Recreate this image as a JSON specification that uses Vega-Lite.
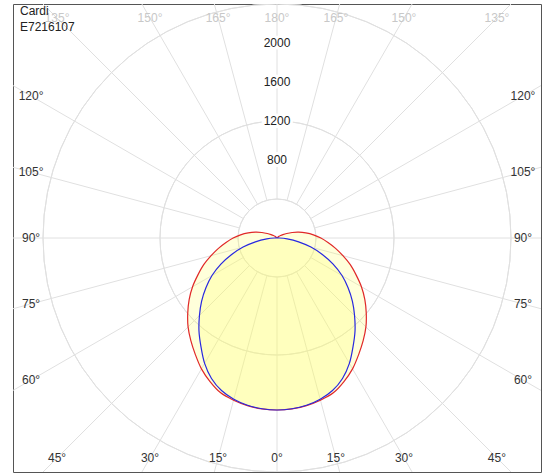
{
  "$schema": "https://vega.github.io/schema/vega-lite/v6.json",
  "width": 528,
  "height": 468,
  "autosize": {"type": "none"},
  "padding": {"left": 13, "top": 4, "right": 2, "bottom": 4},
  "background": "white",
  "config": {"view": {"stroke": "#555555", "strokeWidth": 1}, "font": "Liberation Sans"},
  "title": {
    "text": ["Cardi", "E7216107"],
    "anchor": "start",
    "frame": "group",
    "orient": "top",
    "baseline": "top",
    "offset": 0,
    "dx": 7,
    "dy": 30,
    "font": "Liberation Sans",
    "fontSize": 12,
    "fontWeight": "normal",
    "color": "#222222",
    "lineHeight": 16
  },
  "datasets": {
    "rings": [{"r": 400}, {"r": 800}, {"r": 1200}, {"r": 1600}, {"r": 2000}, {"r": 2400}, {"r": 2800}, {"r": 3200}, {"r": 3600}],
    "spokes": [{"a": 0}, {"a": 15}, {"a": 30}, {"a": 45}, {"a": 60}, {"a": 75}, {"a": 90}, {"a": 105}, {"a": 120}, {"a": 135}, {"a": 150}, {"a": 165}, {"a": 180}, {"a": 195}, {"a": 210}, {"a": 225}, {"a": 240}, {"a": 255}, {"a": 270}, {"a": 285}, {"a": 300}, {"a": 315}, {"a": 330}, {"a": 345}],
    "anglabels": [
      {"a": -165, "label": "165°"}, {"a": -150, "label": "150°"}, {"a": -135, "label": "135°"}, {"a": -120, "label": "120°"}, {"a": -105, "label": "105°"}, {"a": -90, "label": "90°"}, {"a": -75, "label": "75°"}, {"a": -60, "label": "60°"}, {"a": -45, "label": "45°"}, {"a": -30, "label": "30°"}, {"a": -15, "label": "15°"},
      {"a": 0, "label": "0°"},
      {"a": 15, "label": "15°"}, {"a": 30, "label": "30°"}, {"a": 45, "label": "45°"}, {"a": 60, "label": "60°"}, {"a": 75, "label": "75°"}, {"a": 90, "label": "90°"}, {"a": 105, "label": "105°"}, {"a": 120, "label": "120°"}, {"a": 135, "label": "135°"}, {"a": 150, "label": "150°"}, {"a": 165, "label": "165°"},
      {"a": 180, "label": "180°"}
    ],
    "intlabels": [{"v": 800}, {"v": 1200}, {"v": 1600}, {"v": 2000}],
    "curves": [
      {"p": "C0-C180", "g": -180, "I": 0}, {"p": "C0-C180", "g": -170, "I": 0}, {"p": "C0-C180", "g": -160, "I": 1}, {"p": "C0-C180", "g": -150, "I": 3}, {"p": "C0-C180", "g": -140, "I": 8}, {"p": "C0-C180", "g": -135, "I": 16}, {"p": "C0-C180", "g": -130, "I": 28}, {"p": "C0-C180", "g": -125, "I": 45}, {"p": "C0-C180", "g": -120, "I": 70}, {"p": "C0-C180", "g": -115, "I": 110}, {"p": "C0-C180", "g": -110, "I": 165}, {"p": "C0-C180", "g": -105, "I": 230}, {"p": "C0-C180", "g": -100, "I": 300}, {"p": "C0-C180", "g": -95, "I": 375}, {"p": "C0-C180", "g": -90, "I": 450}, {"p": "C0-C180", "g": -85, "I": 525}, {"p": "C0-C180", "g": -80, "I": 610}, {"p": "C0-C180", "g": -75, "I": 700}, {"p": "C0-C180", "g": -70, "I": 800}, {"p": "C0-C180", "g": -65, "I": 895}, {"p": "C0-C180", "g": -60, "I": 1000}, {"p": "C0-C180", "g": -55, "I": 1100}, {"p": "C0-C180", "g": -50, "I": 1195}, {"p": "C0-C180", "g": -45, "I": 1290}, {"p": "C0-C180", "g": -40, "I": 1375}, {"p": "C0-C180", "g": -35, "I": 1460}, {"p": "C0-C180", "g": -30, "I": 1550}, {"p": "C0-C180", "g": -25, "I": 1625}, {"p": "C0-C180", "g": -20, "I": 1690}, {"p": "C0-C180", "g": -15, "I": 1722}, {"p": "C0-C180", "g": -10, "I": 1745}, {"p": "C0-C180", "g": -5, "I": 1760},
      {"p": "C0-C180", "g": 0, "I": 1764},
      {"p": "C0-C180", "g": 5, "I": 1760}, {"p": "C0-C180", "g": 10, "I": 1745}, {"p": "C0-C180", "g": 15, "I": 1722}, {"p": "C0-C180", "g": 20, "I": 1690}, {"p": "C0-C180", "g": 25, "I": 1625}, {"p": "C0-C180", "g": 30, "I": 1550}, {"p": "C0-C180", "g": 35, "I": 1460}, {"p": "C0-C180", "g": 40, "I": 1375}, {"p": "C0-C180", "g": 45, "I": 1290}, {"p": "C0-C180", "g": 50, "I": 1195}, {"p": "C0-C180", "g": 55, "I": 1100}, {"p": "C0-C180", "g": 60, "I": 1000}, {"p": "C0-C180", "g": 65, "I": 895}, {"p": "C0-C180", "g": 70, "I": 800}, {"p": "C0-C180", "g": 75, "I": 700}, {"p": "C0-C180", "g": 80, "I": 610}, {"p": "C0-C180", "g": 85, "I": 525}, {"p": "C0-C180", "g": 90, "I": 450}, {"p": "C0-C180", "g": 95, "I": 375}, {"p": "C0-C180", "g": 100, "I": 300}, {"p": "C0-C180", "g": 105, "I": 230}, {"p": "C0-C180", "g": 110, "I": 165}, {"p": "C0-C180", "g": 115, "I": 110}, {"p": "C0-C180", "g": 120, "I": 70}, {"p": "C0-C180", "g": 125, "I": 45}, {"p": "C0-C180", "g": 130, "I": 28}, {"p": "C0-C180", "g": 135, "I": 16}, {"p": "C0-C180", "g": 140, "I": 8}, {"p": "C0-C180", "g": 150, "I": 3}, {"p": "C0-C180", "g": 160, "I": 1}, {"p": "C0-C180", "g": 170, "I": 0}, {"p": "C0-C180", "g": 180, "I": 0},
      {"p": "C90-C270", "g": -180, "I": 0}, {"p": "C90-C270", "g": -150, "I": 0}, {"p": "C90-C270", "g": -120, "I": 0}, {"p": "C90-C270", "g": -100, "I": 0}, {"p": "C90-C270", "g": -95, "I": 3}, {"p": "C90-C270", "g": -90, "I": 25}, {"p": "C90-C270", "g": -85, "I": 105}, {"p": "C90-C270", "g": -80, "I": 225}, {"p": "C90-C270", "g": -75, "I": 360}, {"p": "C90-C270", "g": -70, "I": 495}, {"p": "C90-C270", "g": -65, "I": 635}, {"p": "C90-C270", "g": -60, "I": 770}, {"p": "C90-C270", "g": -55, "I": 890}, {"p": "C90-C270", "g": -50, "I": 1010}, {"p": "C90-C270", "g": -45, "I": 1125}, {"p": "C90-C270", "g": -40, "I": 1245}, {"p": "C90-C270", "g": -35, "I": 1360}, {"p": "C90-C270", "g": -30, "I": 1485}, {"p": "C90-C270", "g": -25, "I": 1590}, {"p": "C90-C270", "g": -20, "I": 1665}, {"p": "C90-C270", "g": -15, "I": 1712}, {"p": "C90-C270", "g": -10, "I": 1742}, {"p": "C90-C270", "g": -5, "I": 1758},
      {"p": "C90-C270", "g": 0, "I": 1764},
      {"p": "C90-C270", "g": 5, "I": 1758}, {"p": "C90-C270", "g": 10, "I": 1742}, {"p": "C90-C270", "g": 15, "I": 1712}, {"p": "C90-C270", "g": 20, "I": 1665}, {"p": "C90-C270", "g": 25, "I": 1590}, {"p": "C90-C270", "g": 30, "I": 1485}, {"p": "C90-C270", "g": 35, "I": 1360}, {"p": "C90-C270", "g": 40, "I": 1245}, {"p": "C90-C270", "g": 45, "I": 1125}, {"p": "C90-C270", "g": 50, "I": 1010}, {"p": "C90-C270", "g": 55, "I": 890}, {"p": "C90-C270", "g": 60, "I": 770}, {"p": "C90-C270", "g": 65, "I": 635}, {"p": "C90-C270", "g": 70, "I": 495}, {"p": "C90-C270", "g": 75, "I": 360}, {"p": "C90-C270", "g": 80, "I": 225}, {"p": "C90-C270", "g": 85, "I": 105}, {"p": "C90-C270", "g": 90, "I": 25}, {"p": "C90-C270", "g": 95, "I": 3}, {"p": "C90-C270", "g": 100, "I": 0}, {"p": "C90-C270", "g": 120, "I": 0}, {"p": "C90-C270", "g": 150, "I": 0}, {"p": "C90-C270", "g": 180, "I": 0}
    ]
  },
  "layer": [
    {
      "data": {"name": "rings"},
      "mark": {"type": "arc", "theta": 0, "theta2": 6.2832, "filled": false, "color": "#e0e0e0", "strokeWidth": 1, "clip": true},
      "encoding": {
        "radius": {"field": "r", "type": "quantitative", "scale": {"type": "linear", "domain": [0, 2400], "range": [0, 234], "zero": true}}
      }
    },
    {
      "data": {"name": "spokes"},
      "transform": [
        {"calculate": "400*sin(datum.a*PI/180)", "as": "x0"},
        {"calculate": "-400*cos(datum.a*PI/180)", "as": "y0"},
        {"calculate": "4200*sin(datum.a*PI/180)", "as": "x1"},
        {"calculate": "-4200*cos(datum.a*PI/180)", "as": "y1"}
      ],
      "mark": {"type": "rule", "color": "#e0e0e0", "strokeWidth": 1, "clip": true},
      "encoding": {
        "x": {"field": "x0", "type": "quantitative", "scale": {"domain": [-2708, 2708], "nice": false, "zero": false}, "axis": null},
        "y": {"field": "y0", "type": "quantitative", "scale": {"domain": [-2400, 2400], "nice": false, "zero": false}, "axis": null},
        "x2": {"field": "x1"},
        "y2": {"field": "y1"}
      }
    },
    {
      "data": {"name": "curves"},
      "transform": [
        {"calculate": "datum.I*sin(datum.g*PI/180)", "as": "x"},
        {"calculate": "-datum.I*cos(datum.g*PI/180)", "as": "y"}
      ],
      "mark": {"type": "line", "interpolate": "catmull-rom", "fill": "#ffff66", "fillOpacity": 0.24, "strokeWidth": 1.2, "clip": true},
      "encoding": {
        "x": {"field": "x", "type": "quantitative", "scale": {"domain": [-2708, 2708], "nice": false, "zero": false}, "axis": null},
        "y": {"field": "y", "type": "quantitative", "scale": {"domain": [-2400, 2400], "nice": false, "zero": false}, "axis": null},
        "order": {"field": "g", "type": "quantitative"},
        "color": {"field": "p", "type": "nominal", "scale": {"domain": ["C0-C180", "C90-C270"], "range": ["#e02828", "#2828e0"]}, "legend": null}
      }
    },
    {
      "data": {"name": "anglabels"},
      "transform": [
        {"calculate": "sin(datum.a*PI/180)", "as": "s"},
        {"calculate": "cos(datum.a*PI/180)", "as": "c"},
        {"calculate": "min(abs(datum.s) > 0.000001 ? 2523/abs(datum.s) : 100000, abs(datum.c) > 0.000001 ? 2256/abs(datum.c) : 100000)", "as": "t"},
        {"calculate": "datum.t*datum.s", "as": "lx"},
        {"calculate": "-datum.t*datum.c", "as": "ly"}
      ],
      "mark": {"type": "text", "font": "Liberation Sans", "fontSize": 12, "align": "center", "baseline": "middle"},
      "encoding": {
        "x": {"field": "lx", "type": "quantitative", "scale": {"domain": [-2708, 2708], "nice": false, "zero": false}, "axis": null},
        "y": {"field": "ly", "type": "quantitative", "scale": {"domain": [-2400, 2400], "nice": false, "zero": false}, "axis": null},
        "text": {"field": "label"},
        "color": {"condition": {"test": "abs(datum.a) >= 135", "value": "#c8c8c8"}, "value": "#333333"}
      }
    },
    {
      "data": {"name": "intlabels"},
      "mark": {"type": "text", "font": "Liberation Sans", "fontSize": 12, "align": "center", "baseline": "middle", "stroke": "white", "strokeWidth": 6, "fill": "white"},
      "encoding": {
        "x": {"datum": 0, "type": "quantitative", "scale": {"domain": [-2708, 2708], "nice": false, "zero": false}, "axis": null},
        "y": {"field": "v", "type": "quantitative", "scale": {"domain": [-2400, 2400], "nice": false, "zero": false}, "axis": null},
        "text": {"field": "v", "type": "quantitative", "format": "d"}
      }
    },
    {
      "data": {"name": "intlabels"},
      "mark": {"type": "text", "font": "Liberation Sans", "fontSize": 12, "align": "center", "baseline": "middle", "color": "#222222"},
      "encoding": {
        "x": {"datum": 0, "type": "quantitative", "scale": {"domain": [-2708, 2708], "nice": false, "zero": false}, "axis": null},
        "y": {"field": "v", "type": "quantitative", "scale": {"domain": [-2400, 2400], "nice": false, "zero": false}, "axis": null},
        "text": {"field": "v", "type": "quantitative", "format": "d"}
      }
    }
  ]
}
